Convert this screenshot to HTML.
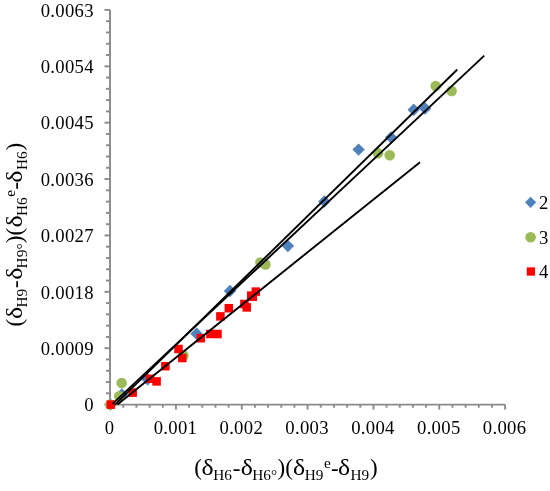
<!DOCTYPE html><html><head><meta charset="utf-8"><style>html,body{margin:0;padding:0;background:#fff;width:550px;height:491px;overflow:hidden}svg{display:block;will-change:transform}text{font-family:"Liberation Serif",serif;fill:#000}</style></head><body>
<svg width="550" height="491" viewBox="0 0 550 491">
<rect width="550" height="491" fill="#fff"/>
<g stroke="#8a8a8a" stroke-width="1.9" fill="none" stroke-linecap="butt">
<line x1="110" y1="9.90" x2="110" y2="405.55"/>
<line x1="109.05" y1="404.6" x2="505.1" y2="404.6"/>
<line x1="104.5" y1="404.60" x2="110" y2="404.60"/>
<line x1="106" y1="393.32" x2="110" y2="393.32"/>
<line x1="106" y1="382.05" x2="110" y2="382.05"/>
<line x1="106" y1="370.77" x2="110" y2="370.77"/>
<line x1="106" y1="359.49" x2="110" y2="359.49"/>
<line x1="104.5" y1="348.21" x2="110" y2="348.21"/>
<line x1="106" y1="336.94" x2="110" y2="336.94"/>
<line x1="106" y1="325.66" x2="110" y2="325.66"/>
<line x1="106" y1="314.38" x2="110" y2="314.38"/>
<line x1="106" y1="303.11" x2="110" y2="303.11"/>
<line x1="104.5" y1="291.83" x2="110" y2="291.83"/>
<line x1="106" y1="280.55" x2="110" y2="280.55"/>
<line x1="106" y1="269.27" x2="110" y2="269.27"/>
<line x1="106" y1="258.00" x2="110" y2="258.00"/>
<line x1="106" y1="246.72" x2="110" y2="246.72"/>
<line x1="104.5" y1="235.44" x2="110" y2="235.44"/>
<line x1="106" y1="224.17" x2="110" y2="224.17"/>
<line x1="106" y1="212.89" x2="110" y2="212.89"/>
<line x1="106" y1="201.61" x2="110" y2="201.61"/>
<line x1="106" y1="190.33" x2="110" y2="190.33"/>
<line x1="104.5" y1="179.06" x2="110" y2="179.06"/>
<line x1="106" y1="167.78" x2="110" y2="167.78"/>
<line x1="106" y1="156.50" x2="110" y2="156.50"/>
<line x1="106" y1="145.23" x2="110" y2="145.23"/>
<line x1="106" y1="133.95" x2="110" y2="133.95"/>
<line x1="104.5" y1="122.67" x2="110" y2="122.67"/>
<line x1="106" y1="111.39" x2="110" y2="111.39"/>
<line x1="106" y1="100.12" x2="110" y2="100.12"/>
<line x1="106" y1="88.84" x2="110" y2="88.84"/>
<line x1="106" y1="77.56" x2="110" y2="77.56"/>
<line x1="104.5" y1="66.29" x2="110" y2="66.29"/>
<line x1="106" y1="55.01" x2="110" y2="55.01"/>
<line x1="106" y1="43.73" x2="110" y2="43.73"/>
<line x1="106" y1="32.45" x2="110" y2="32.45"/>
<line x1="106" y1="21.18" x2="110" y2="21.18"/>
<line x1="104.5" y1="9.90" x2="110" y2="9.90"/>
<line x1="123.27" y1="404.6" x2="123.27" y2="407.7"/>
<line x1="136.43" y1="404.6" x2="136.43" y2="407.7"/>
<line x1="149.60" y1="404.6" x2="149.60" y2="407.7"/>
<line x1="162.77" y1="404.6" x2="162.77" y2="407.7"/>
<line x1="175.93" y1="404.6" x2="175.93" y2="409.6"/>
<line x1="189.10" y1="404.6" x2="189.10" y2="407.7"/>
<line x1="202.27" y1="404.6" x2="202.27" y2="407.7"/>
<line x1="215.43" y1="404.6" x2="215.43" y2="407.7"/>
<line x1="228.60" y1="404.6" x2="228.60" y2="407.7"/>
<line x1="241.77" y1="404.6" x2="241.77" y2="409.6"/>
<line x1="254.93" y1="404.6" x2="254.93" y2="407.7"/>
<line x1="268.10" y1="404.6" x2="268.10" y2="407.7"/>
<line x1="281.27" y1="404.6" x2="281.27" y2="407.7"/>
<line x1="294.43" y1="404.6" x2="294.43" y2="407.7"/>
<line x1="307.60" y1="404.6" x2="307.60" y2="409.6"/>
<line x1="320.77" y1="404.6" x2="320.77" y2="407.7"/>
<line x1="333.93" y1="404.6" x2="333.93" y2="407.7"/>
<line x1="347.10" y1="404.6" x2="347.10" y2="407.7"/>
<line x1="360.27" y1="404.6" x2="360.27" y2="407.7"/>
<line x1="373.43" y1="404.6" x2="373.43" y2="409.6"/>
<line x1="386.60" y1="404.6" x2="386.60" y2="407.7"/>
<line x1="399.77" y1="404.6" x2="399.77" y2="407.7"/>
<line x1="412.93" y1="404.6" x2="412.93" y2="407.7"/>
<line x1="426.10" y1="404.6" x2="426.10" y2="407.7"/>
<line x1="439.27" y1="404.6" x2="439.27" y2="409.6"/>
<line x1="452.43" y1="404.6" x2="452.43" y2="407.7"/>
<line x1="465.60" y1="404.6" x2="465.60" y2="407.7"/>
<line x1="478.77" y1="404.6" x2="478.77" y2="407.7"/>
<line x1="491.93" y1="404.6" x2="491.93" y2="407.7"/>
<line x1="505.10" y1="404.6" x2="505.10" y2="409.6"/>
</g>
<text x="93.90" y="411.40" font-size="18.7" letter-spacing="0.3" text-anchor="end">0</text>
<text x="93.90" y="355.01" font-size="18.7" letter-spacing="0.3" text-anchor="end">0.0009</text>
<text x="93.90" y="298.63" font-size="18.7" letter-spacing="0.3" text-anchor="end">0.0018</text>
<text x="93.90" y="242.24" font-size="18.7" letter-spacing="0.3" text-anchor="end">0.0027</text>
<text x="93.90" y="185.86" font-size="18.7" letter-spacing="0.3" text-anchor="end">0.0036</text>
<text x="93.90" y="129.47" font-size="18.7" letter-spacing="0.3" text-anchor="end">0.0045</text>
<text x="93.90" y="73.09" font-size="18.7" letter-spacing="0.3" text-anchor="end">0.0054</text>
<text x="93.90" y="16.70" font-size="18.7" letter-spacing="0.3" text-anchor="end">0.0063</text>
<text x="109.60" y="434" font-size="18.7" letter-spacing="0.3" text-anchor="middle">0</text>
<text x="175.43" y="434" font-size="18.7" letter-spacing="0.3" text-anchor="middle">0.001</text>
<text x="241.27" y="434" font-size="18.7" letter-spacing="0.3" text-anchor="middle">0.002</text>
<text x="307.10" y="434" font-size="18.7" letter-spacing="0.3" text-anchor="middle">0.003</text>
<text x="372.93" y="434" font-size="18.7" letter-spacing="0.3" text-anchor="middle">0.004</text>
<text x="438.77" y="434" font-size="18.7" letter-spacing="0.3" text-anchor="middle">0.005</text>
<text x="504.60" y="434" font-size="18.7" letter-spacing="0.3" text-anchor="middle">0.006</text>
<path d="M110.50 398.40L116.70 404.60L110.50 410.80L104.30 404.60Z" fill="#4f81bd"/>
<path d="M121.80 388.30L128.00 394.50L121.80 400.70L115.60 394.50Z" fill="#4f81bd"/>
<path d="M147.60 373.20L153.80 379.40L147.60 385.60L141.40 379.40Z" fill="#4f81bd"/>
<path d="M196.60 327.60L202.80 333.80L196.60 340.00L190.40 333.80Z" fill="#4f81bd"/>
<path d="M230.00 284.80L236.20 291.00L230.00 297.20L223.80 291.00Z" fill="#4f81bd"/>
<path d="M287.90 239.80L294.10 246.00L287.90 252.20L281.70 246.00Z" fill="#4f81bd"/>
<path d="M324.30 195.30L330.50 201.50L324.30 207.70L318.10 201.50Z" fill="#4f81bd"/>
<path d="M358.60 143.40L364.80 149.60L358.60 155.80L352.40 149.60Z" fill="#4f81bd"/>
<path d="M391.10 131.30L397.30 137.50L391.10 143.70L384.90 137.50Z" fill="#4f81bd"/>
<path d="M413.70 103.50L419.90 109.70L413.70 115.90L407.50 109.70Z" fill="#4f81bd"/>
<path d="M425.10 102.30L431.30 108.50L425.10 114.70L418.90 108.50Z" fill="#4f81bd"/>
<circle cx="110.20" cy="404.60" r="5.3" fill="#9bbb59"/>
<circle cx="121.70" cy="383.10" r="5.3" fill="#9bbb59"/>
<circle cx="119.20" cy="396.30" r="5.3" fill="#9bbb59"/>
<circle cx="183.40" cy="355.40" r="5.3" fill="#9bbb59"/>
<circle cx="260.40" cy="262.50" r="5.3" fill="#9bbb59"/>
<circle cx="265.40" cy="264.50" r="5.3" fill="#9bbb59"/>
<circle cx="378.00" cy="153.20" r="5.3" fill="#9bbb59"/>
<circle cx="389.70" cy="155.30" r="5.3" fill="#9bbb59"/>
<circle cx="435.70" cy="86.10" r="5.3" fill="#9bbb59"/>
<circle cx="451.60" cy="91.00" r="5.3" fill="#9bbb59"/>
<rect x="106.65" y="400.35" width="8.50" height="8.50" fill="#ff0000"/>
<rect x="128.45" y="388.35" width="8.50" height="8.50" fill="#ff0000"/>
<rect x="145.75" y="374.55" width="8.50" height="8.50" fill="#ff0000"/>
<rect x="152.35" y="377.15" width="8.50" height="8.50" fill="#ff0000"/>
<rect x="161.15" y="361.95" width="8.50" height="8.50" fill="#ff0000"/>
<rect x="174.25" y="344.75" width="8.50" height="8.50" fill="#ff0000"/>
<rect x="178.05" y="353.75" width="8.50" height="8.50" fill="#ff0000"/>
<rect x="196.55" y="333.95" width="8.50" height="8.50" fill="#ff0000"/>
<rect x="206.15" y="329.75" width="8.50" height="8.50" fill="#ff0000"/>
<rect x="213.25" y="329.75" width="8.50" height="8.50" fill="#ff0000"/>
<rect x="216.15" y="312.15" width="8.50" height="8.50" fill="#ff0000"/>
<rect x="224.55" y="303.95" width="8.50" height="8.50" fill="#ff0000"/>
<rect x="240.15" y="299.75" width="8.50" height="8.50" fill="#ff0000"/>
<rect x="242.45" y="303.15" width="8.50" height="8.50" fill="#ff0000"/>
<rect x="246.95" y="291.35" width="8.50" height="8.50" fill="#ff0000"/>
<rect x="248.55" y="292.45" width="8.50" height="8.50" fill="#ff0000"/>
<rect x="251.55" y="287.35" width="8.50" height="8.50" fill="#ff0000"/>
<g stroke="#000" stroke-width="1.9" stroke-linecap="butt">
<line x1="115.0" y1="404.6" x2="457.3" y2="69.5"/>
<line x1="112.5" y1="403.9" x2="484.3" y2="55.6"/>
<line x1="117.4" y1="404.6" x2="420.0" y2="162.2"/>
</g>
<path d="M530.60 196.70L536.20 202.30L530.60 207.90L525.00 202.30Z" fill="#4f81bd"/>
<circle cx="530.60" cy="237.20" r="5.3" fill="#9bbb59"/>
<rect x="526.75" y="267.35" width="8.30" height="8.30" fill="#ff0000"/>
<text x="539.1" y="209.4" font-size="18.7">2</text>
<text x="539.1" y="243.8" font-size="18.7">3</text>
<text x="539.1" y="278.3" font-size="18.7">4</text>
<g transform="translate(195.1 474.4)"><text x="-0.92" y="0.3" font-size="23.0">(</text><text transform="translate(6.38 0) scale(1.12 1)" x="0" y="0.8" font-size="23.0">δ</text><text x="18.04" y="5.3" font-size="15.3">H6</text><text x="37.58" y="1.2" font-size="23.0">-</text><text transform="translate(45.68 0) scale(1.12 1)" x="0" y="0.8" font-size="23.0">δ</text><text x="57.14" y="5.3" font-size="15.3">H6</text><text x="75.94" y="5.3" font-size="15.3">°</text><text x="82.31" y="0.3" font-size="23.0">)</text><text x="90.08" y="0.3" font-size="23.0">(</text><text transform="translate(97.88 0) scale(1.12 1)" x="0" y="0.8" font-size="23.0">δ</text><text x="109.54" y="5.3" font-size="15.3">H9</text><text x="128.89" y="-6.9" font-size="15.3">e</text><text x="135.98" y="1.2" font-size="23.0">-</text><text transform="translate(142.78 0) scale(1.12 1)" x="0" y="0.8" font-size="23.0">δ</text><text x="155.44" y="5.3" font-size="15.3">H9</text><text x="175.01" y="0.3" font-size="23.0">)</text></g>
<g transform="translate(21.5 325.5) rotate(-90)"><text x="-0.92" y="0.3" font-size="23.0">(</text><text transform="translate(6.38 0) scale(1.12 1)" x="0" y="0.8" font-size="23.0">δ</text><text x="18.04" y="5.3" font-size="15.3">H9</text><text x="37.58" y="1.2" font-size="23.0">-</text><text transform="translate(45.68 0) scale(1.12 1)" x="0" y="0.8" font-size="23.0">δ</text><text x="57.14" y="5.3" font-size="15.3">H9</text><text x="75.94" y="5.3" font-size="15.3">°</text><text x="82.31" y="0.3" font-size="23.0">)</text><text x="90.08" y="0.3" font-size="23.0">(</text><text transform="translate(97.88 0) scale(1.12 1)" x="0" y="0.8" font-size="23.0">δ</text><text x="109.54" y="5.3" font-size="15.3">H6</text><text x="128.89" y="-6.9" font-size="15.3">e</text><text x="135.98" y="1.2" font-size="23.0">-</text><text transform="translate(142.78 0) scale(1.12 1)" x="0" y="0.8" font-size="23.0">δ</text><text x="155.44" y="5.3" font-size="15.3">H6</text><text x="175.01" y="0.3" font-size="23.0">)</text></g>
</svg></body></html>
